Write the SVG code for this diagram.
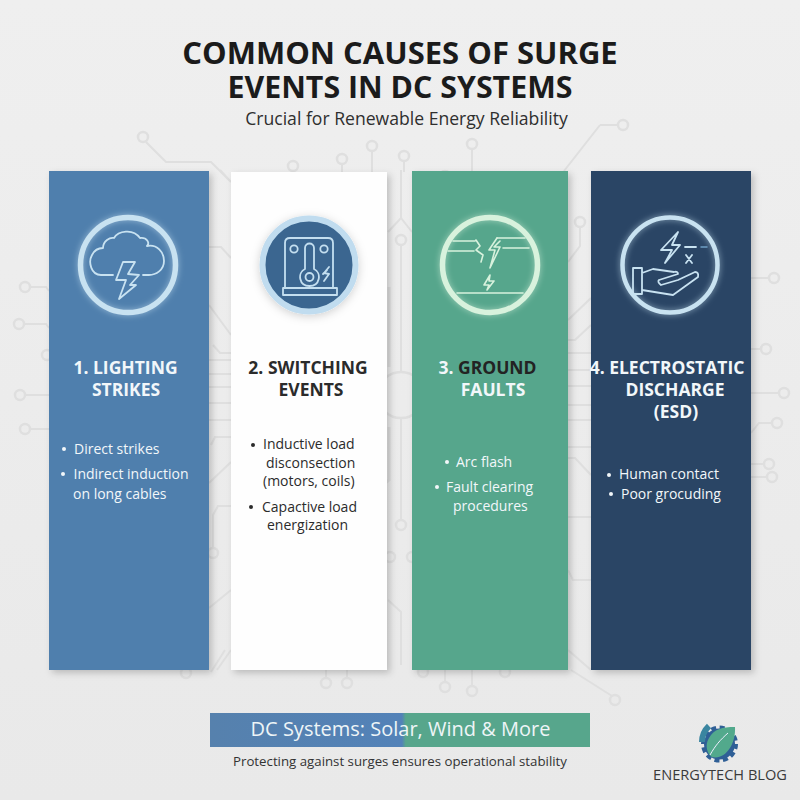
<svg xmlns="http://www.w3.org/2000/svg" width="800" height="800" viewBox="0 0 800 800">
<style>
text{font-family:"Open Sans","Noto Sans","Liberation Sans",sans-serif}
.trace{fill:none;stroke:#dfdfdf;stroke-width:2}
.pad{fill:none;stroke:#dfdfdf;stroke-width:2.5}
.head{font-size:17.5px;font-weight:700;text-anchor:middle}
.item{font-size:14px}
.lt{fill:#f2f7fa}
.dk{fill:#2b2b2b}
.ico{fill:none;stroke-linejoin:round;stroke-linecap:round}
</style>
<defs>
<linearGradient id="bg" x1="0" y1="0" x2="0" y2="1"><stop offset="0" stop-color="#efefef"/><stop offset="1" stop-color="#e9e9e9"/></linearGradient>
<linearGradient id="band" x1="0" y1="0" x2="1" y2="0"><stop offset="0" stop-color="#5681ad"/><stop offset="0.505" stop-color="#5382b8"/><stop offset="0.515" stop-color="#57a68c"/><stop offset="1" stop-color="#57a68c"/></linearGradient>
<filter id="shadow" x="-10%" y="-5%" width="125%" height="110%"><feDropShadow dx="3" dy="3" stdDeviation="3.5" flood-color="#000" flood-opacity="0.2"/></filter>
<filter id="glow" x="-30%" y="-30%" width="160%" height="160%"><feGaussianBlur stdDeviation="3" result="b"/><feComponentTransfer in="b" result="c"><feFuncA type="linear" slope="0.6"/></feComponentTransfer><feMerge><feMergeNode in="c"/><feMergeNode in="SourceGraphic"/></feMerge></filter>
<filter id="soft" x="-30%" y="-30%" width="160%" height="160%"><feDropShadow dx="0" dy="2" stdDeviation="5" flood-color="#000" flood-opacity="0.18"/></filter>
</defs>
<rect width="800" height="800" fill="url(#bg)"/>
<g id="connectors">
<path class="trace" d="M146,142L166,162H211L231,182M220,170L231,182M209,247H221L231,258M209,305L231,335M213,345L220,353H231M209,360H231M209,374H231M209,387H231M209,403H231M209,420H231M211,445L215,437H231M209,483L231,462M231,506H218L213,515V548M209,608L231,590M217,670L231,650M211,672L225,650"/>
<path class="trace" d="M293,171V172M342,164V172M372,151V172M404,161V172M472,149V172M326,670V678M347,670V678M445,670V682M472,670V686M571,670L612,696"/>
<path class="trace" d="M401,170V218M388,232L401,218L412,232M401,245V372M401,418V520M388,600L401,612V665"/>
<path class="trace" d="M389,287V367M389,427V480L385,483" style="stroke-width:3"/>
<path class="trace" d="M580,227V246L568,262M568,320L591,298M568,340H575L591,325M568,353H591M568,370H591M568,386H591M568,405H591M568,420H591M568,447H591M568,458H575L591,475M568,517H591M568,570L573,580H591M568,650L591,670"/>
<path class="trace" d="M600,125L564,171M600,125H618"/>
<path class="trace" d="M30,287H46L49,291M24,324H46L49,328M25,395H49M30,429H49M751,278H769M751,349H761M751,393H779M751,433L759,423H772M751,464H764M751,477H767"/>
<g class="pad">
<circle cx="143" cy="137" r="5"/><circle cx="293" cy="166" r="5"/><circle cx="342" cy="159" r="5"/><circle cx="372" cy="146" r="5"/><circle cx="404" cy="156" r="5"/><circle cx="472" cy="144" r="5"/><circle cx="445" cy="177" r="6"/><circle cx="623" cy="125" r="5"/>
<circle cx="186" cy="673" r="5"/><circle cx="326" cy="683" r="5"/><circle cx="347" cy="683" r="5"/><circle cx="423" cy="672" r="5"/><circle cx="445" cy="687" r="5"/><circle cx="472" cy="691" r="5"/><circle cx="505" cy="672" r="5"/><circle cx="615" cy="700" r="5"/>
<circle cx="25" cy="287" r="5"/><circle cx="19" cy="324" r="5"/><circle cx="47" cy="355" r="5"/><circle cx="20" cy="395" r="5"/><circle cx="25" cy="429" r="5"/>
<circle cx="774" cy="278" r="5"/><circle cx="766" cy="349" r="5"/><circle cx="784" cy="393" r="5"/><circle cx="777" cy="423" r="5"/><circle cx="769" cy="464" r="5"/><circle cx="772" cy="477" r="5"/>
<circle cx="401" cy="240" r="5"/><circle cx="401" cy="395" r="23"/><circle cx="401" cy="525" r="5"/><circle cx="390" cy="557" r="5"/><circle cx="412" cy="557" r="5"/><circle cx="213" cy="553" r="5"/><circle cx="580" cy="222" r="5"/>
</g>
</g>
<g id="header">
<text x="400" y="64" text-anchor="middle" font-size="31" font-weight="700" fill="#1b1b1b">COMMON CAUSES OF SURGE</text>
<text x="400" y="98" text-anchor="middle" font-size="31" font-weight="700" fill="#1b1b1b" textLength="345" lengthAdjust="spacingAndGlyphs">EVENTS IN DC SYSTEMS</text>
<text x="406.500" y="125" text-anchor="middle" font-size="17.600" fill="#2f2f2f">Crucial for Renewable Energy Reliability</text>
</g>
<g id="panel-1">
<rect x="49" y="171" width="160" height="499" fill="#4f7fad" filter="url(#shadow)"/>
<g class="ico" stroke="#c8e2f1">
<circle cx="128" cy="265" r="47.500" stroke-width="5.500" filter="url(#glow)"/>
<path stroke-width="1.800" d="M113,275H101C91,275 88,262 92,255C95,249 99,248 103,248C103,241 110,237 114,238C118,231 133,228 140,238C147,237 150,243 147,246C157,244 164,252 164,261C164,270 156,275 149,275H143"/>
<path stroke-width="1.800" d="M123,262L116,280H126L119,299L136,285H130L139,275L128,274L135,262Z"/>
</g>
<text class="head lt"><tspan x="125.500" y="374">1. LIGHTING</tspan><tspan x="126" y="396">STRIKES</tspan></text>
<circle cx="64" cy="449" r="2" fill="#f2f7fa"/><circle cx="63" cy="474" r="2" fill="#f2f7fa"/>
<text class="item lt"><tspan x="74" y="454">Direct strikes</tspan><tspan x="73.500" y="479">Indirect induction</tspan><tspan x="73" y="499">on long cables</tspan></text>
</g>
<g id="panel-2">
<rect x="231" y="172" width="156" height="498" fill="#fefefe" filter="url(#shadow)"/>
<circle cx="309" cy="265" r="46.500" fill="#3a6690" stroke="#c0dcef" stroke-width="6" filter="url(#soft)"/>
<g class="ico" stroke="#c4dff0" stroke-width="1.800">
<path d="M285,288V243Q285,238 290,238H328Q333,238 333,243V288"/>
<rect x="283" y="288" width="54" height="7"/>
<circle cx="294" cy="249" r="3.700"/><circle cx="324" cy="249" r="3.700"/>
<path d="M305,269V248C305,242 314,242 314,248V269C322,273 320,286 309.500,286C299,286 297,273 305,269Z"/>
<circle cx="309.500" cy="277" r="4"/>
<path d="M329,267L324,273L329,274L324,281M327,270L323,274"/>
</g>
<text class="head dk"><tspan x="308" y="374">2. SWITCHING</tspan><tspan x="311" y="396">EVENTS</tspan></text>
<circle cx="253" cy="445" r="2" fill="#2b2b2b"/><circle cx="251" cy="507" r="2" fill="#2b2b2b"/>
<text class="item dk"><tspan x="263" y="449">Inductive load</tspan><tspan x="266" y="468">disconsection</tspan><tspan x="263" y="486">(motors, coils)</tspan><tspan x="262" y="512">Capactive load</tspan><tspan x="267" y="530">energization</tspan></text>
</g>
<g id="panel-3">
<rect x="412" y="171" width="156" height="499" fill="#57a68c" filter="url(#shadow)"/>
<g class="ico" stroke="#d8f2dd">
<circle cx="490" cy="265" r="47.500" stroke-width="5.500" filter="url(#glow)"/>
<path stroke-width="1.600" d="M453,241H475M448,251H474M476,240L480,246L476,250L483,255L481,262M497,238H525M503,248H529M457,293H523"/>
<path stroke-width="1.600" d="M497,238L489,250H495L490,268L500,247H494L500,241"/>
<path stroke-width="1.600" d="M490,275L484,285H489L487,290L494,281H489Z"/>
</g>
<text class="head" text-anchor="middle"><tspan x="487.500" y="374" fill="#f2f7fa">3. </tspan><tspan fill="#232323">GROUND</tspan><tspan x="493" y="396" fill="#f2f7fa">FAULTS</tspan></text>
<circle cx="447" cy="462" r="2" fill="#f2f7fa"/><circle cx="437" cy="487" r="2" fill="#f2f7fa"/>
<text class="item lt"><tspan x="456" y="467">Arc flash</tspan><tspan x="446" y="492">Fault clearing</tspan><tspan x="453" y="511">procedures</tspan></text>
</g>
<g id="panel-4">
<rect x="591" y="171" width="160" height="499" fill="#2a4565" filter="url(#shadow)"/>
<g class="ico" stroke="#c8e2f1">
<circle cx="670" cy="265" r="47.500" stroke-width="4.500" filter="url(#glow)"/>
<path stroke-width="1.800" d="M678,232L661,250H672L665,263L680,245H672Z"/>
<path stroke-width="1.800" d="M685,247H696M686,255L692,263M692,255L686,263"/>
<path stroke-width="1.500" stroke="#6f9fc4" d="M701,247H707"/>
<path stroke-width="1.800" d="M633,268H642V294H633ZM642,290L673,295L698,277Q699,272 695,272L678,280L661,285Q657,282 659,280L678,274Q678,271 674,272L653,269L642,273"/>
</g>
<text class="head lt"><tspan x="667" y="374">4. ELECTROSTATIC</tspan><tspan x="675" y="396">DISCHARGE</tspan><tspan x="676" y="418">(ESD)</tspan></text>
<circle cx="609" cy="475" r="2" fill="#f2f7fa"/><circle cx="611" cy="494" r="2" fill="#f2f7fa"/>
<text class="item lt"><tspan x="619" y="479">Human contact</tspan><tspan x="621" y="499">Poor grocuding</tspan></text>
</g>
<g id="banner">
<rect x="210" y="713" width="380" height="34" fill="url(#band)"/>
<text x="400.500" y="736" text-anchor="middle" font-size="20" fill="#eef5f7">DC Systems: Solar, Wind &amp; More</text>
<text x="400" y="766" text-anchor="middle" font-size="13.250" fill="#333">Protecting against surges ensures operational stability</text>
</g>
<g id="logo">
<circle cx="719.500" cy="744" r="12.500" fill="none" stroke="#2f5f96" stroke-width="6"/>
<circle cx="719.500" cy="744" r="16.500" fill="none" stroke="#2f5f96" stroke-width="4" stroke-dasharray="5 3.600"/>
<path d="M709,726A22,22 0 0 0 702,742" fill="none" stroke="#3a85a0" stroke-width="6"/>
<path d="M735,727C722,727 714,729 709,738C704,746 708,755 712,757C725,760 736,745 735,727Z" fill="#52a98c"/>
<path d="M710,755C715,746 720,740 728,733" fill="none" stroke="#eef" stroke-width="1"/>
<text x="720" y="780" text-anchor="middle" font-size="14.600" fill="#3a3a3a">ENERGYTECH BLOG</text>
</g>
</svg>
